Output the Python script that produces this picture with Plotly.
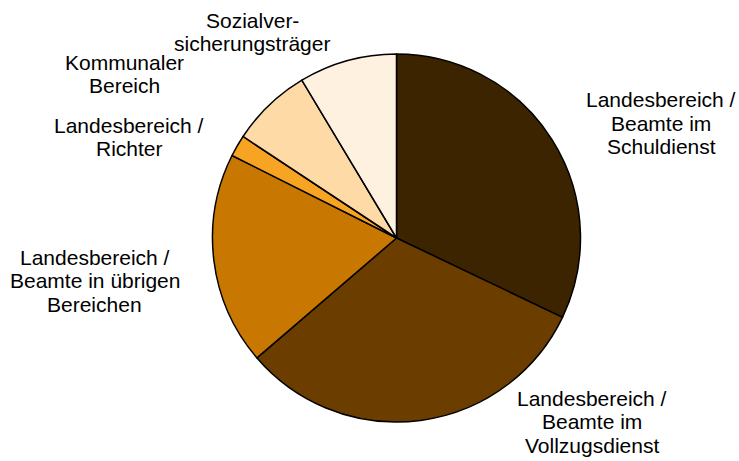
import plotly.graph_objects as go

W, H = 739, 461

labels = [
    "Landesbereich /<br>Beamte im<br>Schuldienst",
    "Landesbereich /<br>Beamte im<br>Vollzugsdienst",
    "Landesbereich /<br>Beamte in übrigen<br>Bereichen",
    "Landesbereich /<br>Richter",
    "Kommunaler<br>Bereich",
    "Sozialver-<br>sicherungsträger",
]
values = [32.1, 31.6, 18.7, 1.9, 7.1, 8.6]
colors = ["#3d2400", "#6b3e00", "#c87800", "#f8a423", "#fedaa6", "#fff1df"]

# label anchor positions (pixel centre x, first-line centre y)
label_x = [661, 592, 95, 129, 124, 252]
label_y = [99.5, 398, 257, 125, 62, 20]
line_gap = 23.7
font_size = 21

cx, cy, r = 396.5, 238, 184

fig = go.Figure(go.Pie(
    labels=labels,
    values=values,
    sort=False,
    direction="clockwise",
    rotation=0,
    marker=dict(colors=colors, line=dict(color="#000000", width=1.5)),
    textinfo="none",
    hoverinfo="label+value",
    showlegend=False,
    domain=dict(x=[(cx - r) / W, (cx + r) / W], y=[1 - (cy + r) / H, 1 - (cy - r) / H]),
))

annotations = []
for lab, lx, ly in zip(labels, label_x, label_y):
    for i, line in enumerate(lab.split("<br>")):
        annotations.append(dict(
            text=line,
            x=lx / W, y=1 - (ly + i * line_gap) / H,
            xref="paper", yref="paper",
            xanchor="center", yanchor="middle",
            showarrow=False,
            font=dict(family="Liberation Sans, Arial, sans-serif", size=font_size, color="#000000"),
        ))

fig.update_layout(
    width=W, height=H,
    margin=dict(l=0, r=0, t=0, b=0),
    paper_bgcolor="#ffffff",
    plot_bgcolor="#ffffff",
    annotations=annotations,
)

fig.write_html(
    "out.html",
    config={"displayModeBar": False},
    post_script="document.body.style.margin='0';document.body.style.overflow='hidden';",
)
